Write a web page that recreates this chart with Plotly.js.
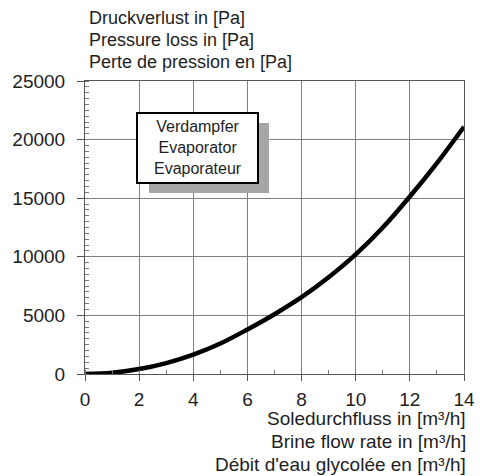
<!DOCTYPE html>
<html>
<head>
<meta charset="utf-8">
<script src="https://cdn.plot.ly/plotly-3.0.1.min.js"></script>
<style>html,body{margin:0;padding:0;background:#fff;}#chart{width:480px;height:476px;}</style>
</head>
<body>
<div id="chart"></div>
<script>
const flowRate = [0, 1, 2, 3, 4, 5, 6, 7, 8, 9, 10, 11, 12, 13, 14];
const pressureLoss = [0, 110, 420, 930, 1650, 2600, 3800, 5100, 6550, 8250, 10200, 12500, 15150, 18000, 21100];
const xTicks = [0, 2, 4, 6, 8, 10, 12, 14];
const yTicks = [0, 5000, 10000, 15000, 20000, 25000];
const yTitleLines = ["Druckverlust in [Pa]", "Pressure loss in [Pa]", "Perte de pression en [Pa]"];
const xTitleLines = ["Soledurchfluss in [m³/h]", "Brine flow rate in [m³/h]", "Débit d'eau glycolée en [m³/h]"];
const boxLines = ["Verdampfer", "Evaporator", "Evaporateur"];

const font = "Liberation Sans, Arial, sans-serif";
const txt = '#1e1e1e';

// pixel helpers for paper coordinates (plot area 85..464 x, 81..374 y)
const px = v => (v - 85) / 379;
const py = v => (374 - v) / 293;

const trace = {
  x: flowRate, y: pressureLoss, type: 'scatter', mode: 'lines',
  line: {color: '#000', width: 4.5, shape: 'spline'}, hoverinfo: 'skip'
};

const annotations = [];
const yTitleY = [18, 40, 62];
yTitleLines.forEach((t, i) => annotations.push({
  xref: 'paper', yref: 'paper', x: px(87), y: py(yTitleY[i]),
  xanchor: 'left', yanchor: 'middle', align: 'left', showarrow: false,
  text: t, font: {family: font, size: 18, color: txt}
}));
const xTitleY = [418, 441, 464];
xTitleLines.forEach((t, i) => annotations.push({
  xref: 'paper', yref: 'paper', x: px(468), y: py(xTitleY[i]),
  xanchor: 'right', yanchor: 'middle', align: 'right', showarrow: false,
  text: t, font: {family: font, size: 19, color: txt}
}));
annotations.push({
  xref: 'paper', yref: 'paper', x: px(197.5), y: py(147),
  xanchor: 'center', yanchor: 'middle', align: 'center', showarrow: false,
  text: boxLines.join('<br>'), font: {family: font, size: 16, color: txt}
});

const layout = {
  width: 480, height: 476,
  margin: {l: 85, r: 16, t: 81, b: 102},
  paper_bgcolor: '#fff', plot_bgcolor: '#fff',
  showlegend: false,
  font: {family: font, size: 18, color: txt},
  xaxis: {
    range: [0, 14], tickvals: xTicks, ticktext: xTicks.map(String),
    showgrid: true, gridcolor: '#808080', gridwidth: 1,
    showline: true, linecolor: '#555', linewidth: 1, mirror: true,
    ticks: 'outside', ticklen: 6, tickcolor: '#555', ticklabelstandoff: 2,
    tickfont: {family: font, size: 19, color: txt},
    minor: {dtick: 1, ticks: 'inside', ticklen: 4, tickcolor: '#777', showgrid: false},
    zeroline: false, fixedrange: true
  },
  yaxis: {
    range: [0, 25000], tickvals: yTicks, ticktext: yTicks.map(String),
    showgrid: true, gridcolor: '#808080', gridwidth: 1,
    showline: true, linecolor: '#555', linewidth: 1, mirror: true,
    ticks: 'outside', ticklen: 7, tickcolor: '#555', ticklabelstandoff: 8,
    tickfont: {family: font, size: 19, color: txt},
    minor: {dtick: 500, ticks: 'inside', ticklen: 4, tickcolor: '#777', showgrid: false},
    zeroline: false, fixedrange: true
  },
  shapes: [
    {type: 'rect', xref: 'paper', yref: 'paper',
     x0: px(149), x1: px(269), y0: py(193), y1: py(123),
     fillcolor: '#a6a6a6', line: {width: 0}, layer: 'above'},
    {type: 'rect', xref: 'paper', yref: 'paper',
     x0: px(137), x1: px(258), y0: py(183), y1: py(113),
     fillcolor: '#fff', line: {color: '#000', width: 2}, layer: 'above'}
  ],
  annotations: annotations
};

Plotly.newPlot('chart', [trace], layout, {displayModeBar: false, staticPlot: true});
</script>
</body>
</html>
